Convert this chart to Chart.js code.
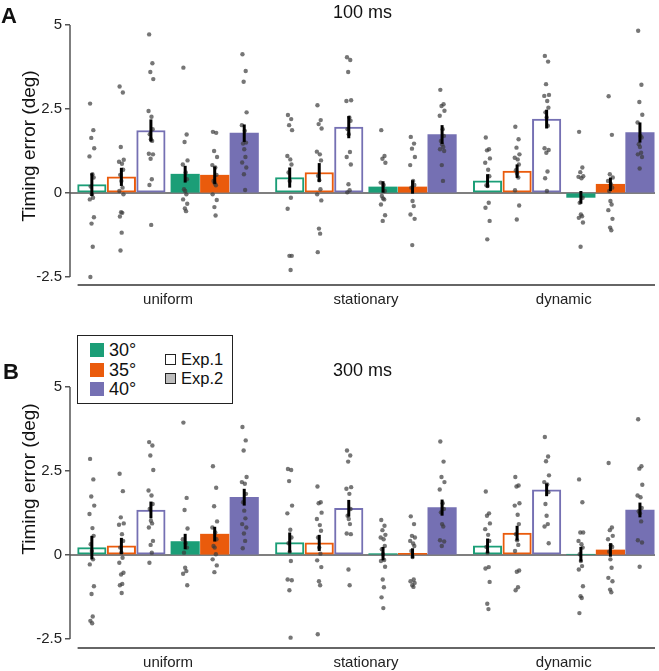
<!DOCTYPE html>
<html>
<head>
<meta charset="utf-8">
<script src="https://cdn.jsdelivr.net/npm/chart.js@4.4.1/dist/chart.umd.min.js"></script>
<style>
  body { margin: 0; background: #fff; font-family: "Liberation Sans", Arial, sans-serif; }
  #wrap { position: relative; width: 659px; height: 671px; }
  #panelA { position: absolute; left: 0; top: 0; }
  #panelB { position: absolute; left: 0; top: 320px; }
  #legend { position: absolute; left: 77px; top: 335px; width: 154px; height: 67px; border: 1px solid #222; background: #fff; color: #111; }
  #legend .sw { position: absolute; width: 14px; height: 14px; left: 12px; }
  #legend .ex { position: absolute; width: 9px; height: 9px; left: 87px; border: 1px solid #222; }
  #legend .tx { position: absolute; font-size: 18px; line-height: 18px; }
  #legend .tx2 { position: absolute; font-size: 16.5px; line-height: 18px; left: 103px; }
</style>
</head>
<body>
<div id="wrap">
  <canvas id="panelA" width="659" height="320"></canvas>
  <canvas id="panelB" width="659" height="351"></canvas>
  <div id="legend">
    <div class="sw" style="top:7px;background:#1b9e77"></div><div class="tx" style="left:31px;top:5px">30°</div>
    <div class="sw" style="top:27px;background:#ea5b0c"></div><div class="tx" style="left:31px;top:25px">35°</div>
    <div class="sw" style="top:46px;background:#7570b3"></div><div class="tx" style="left:31px;top:44px">40°</div>
    <div class="ex" style="top:18px;background:#fff"></div><div class="tx2" style="top:14px">Exp.1</div>
    <div class="ex" style="top:37px;background:#bdbdbd"></div><div class="tx2" style="top:33px">Exp.2</div>
  </div>
</div>
<script>
// Timing error bars, two delay panels

const conditions = ['uniform', 'stationary', 'dynamic'];
const angles = ['30°', '35°', '40°'];
const angleColors = ['#1b9e77', '#ea5b0c', '#7570b3'];
const yTicks = [-2.5, 0, 2.5, 5];

// bar means and SE, indexed [angle][condition]
const mean100Exp1 = [[0.25, 0.46, 0.36], [0.48, 0.61, 0.65], [1.86, 1.96, 2.2]];
const mean100Exp2 = [[0.56, 0.18, -0.13], [0.53, 0.18, 0.26], [1.78, 1.74, 1.8]];
const se100Exp1 = [[0.34, 0.3, 0.2], [0.27, 0.28, 0.2], [0.33, 0.33, 0.28]];
const se100Exp2 = [[0.25, 0.17, 0.19], [0.26, 0.2, 0.2], [0.26, 0.28, 0.3]];

const mean300Exp1 = [[0.22, 0.37, 0.27], [0.27, 0.36, 0.65], [1.34, 1.39, 1.94]];
const mean300Exp2 = [[0.4, 0.04, 0.02], [0.62, 0.05, 0.15], [1.72, 1.41, 1.34]];
const se300Exp1 = [[0.35, 0.3, 0.22], [0.24, 0.24, 0.22], [0.25, 0.25, 0.19]];
const se300Exp2 = [[0.23, 0.2, 0.22], [0.22, 0.15, 0.2], [0.25, 0.24, 0.22]];

// individual observers, indexed [angle][condition]
const dots100Exp1 = [
  [
    [2.66, 1.87, 1.64, 1.33, 1.09, 0.56, 0.46, 0.19, -0.04, -0.14, -0.19, -0.72, -0.91, -1.6, -2.5],
    [2.32, 2.2, 2.02, 1.87, 1.1, 1.0, 0.85, 0.61, 0.36, -0.14, -0.47, -1.87, -1.87, -2.29],
    [1.65, 1.3, 1.27, 1.03, 0.9, 0.69, 0.5, 0.23, 0.21, -0.29, -0.44, -0.83, -1.38]
  ],
  [
    [3.17, 2.99, 1.37, 0.99, 0.93, 0.87, 0.69, 0.54, 0.36, 0.16, 0.06, -0.04, -0.57, -0.59, -0.7, -1.18, -1.71],
    [2.61, 2.17, 2.05, 1.92, 1.23, 1.15, 0.97, 0.51, 0.38, 0.11, -0.04, -0.22, -1.06, -1.21, -1.76],
    [1.97, 1.6, 1.35, 1.15, 1.05, 1.0, 0.85, 0.68, 0.58, 0.46, 0.08, -0.37, -0.79]
  ],
  [
    [4.72, 3.86, 3.6, 3.39, 2.44, 2.27, 1.9, 1.75, 1.6, 1.55, 1.17, 1.15, 1.02, 0.41, 0.24, -0.95],
    [4.04, 3.96, 3.6, 2.76, 2.74, 2.25, 2.15, 1.9, 1.75, 1.22, 1.07, 0.85, 0.26, 0.08, 0.02],
    [4.08, 3.91, 3.24, 2.92, 2.89, 2.74, 2.54, 2.4, 2.25, 2.0, 1.33, 1.28, 1.2, 0.64, 0.44, 0.06]
  ]
];
const dots100Exp2 = [
  [
    [3.73, 1.74, 1.52, 0.97, 0.85, 0.61, 0.41, 0.11, 0.06, -0.04, -0.19, -0.32, -0.46, -0.54],
    [1.87, 1.1, 1.02, 0.9, 0.31, 0.24, 0.06, -0.09, -0.16, -0.19, -0.34, -0.66, -0.83],
    [1.82, 0.76, 0.62, 0.5, 0.48, 0.44, -0.14, -0.29, -0.64, -0.69, -0.74, -0.88, -1.6]
  ],
  [
    [1.82, 1.79, 1.25, 1.07, 0.83, 0.76, 0.54, 0.36, 0.29, 0.23, -0.04, -0.21, -0.42, -0.67],
    [1.67, 1.47, 1.32, 1.07, 0.83, 0.36, 0.24, 0.16, -0.24, -0.39, -0.64, -0.77, -1.55],
    [2.88, 1.73, 0.56, 0.46, 0.36, 0.26, 0.16, 0.06, -0.24, -0.34, -0.51, -0.77, -1.03, -1.11]
  ],
  [
    [4.13, 3.63, 3.31, 2.4, 2.02, 1.85, 1.5, 1.47, 1.3, 1.07, 0.91, 0.76, 0.56, 0.09],
    [3.07, 2.64, 2.59, 2.45, 2.3, 1.9, 1.7, 1.55, 1.45, 1.37, 1.3, 1.25, 0.83, 0.36],
    [4.83, 3.22, 2.71, 2.33, 2.1, 1.7, 1.65, 1.45, 1.37, 1.2, 1.15, 1.07, 0.73]
  ]
];
const dots300Exp1 = [
  [
    [2.86, 2.25, 1.74, 1.47, 1.22, 0.8, 0.57, 0.32, 0.12, -0.13, -0.28, -0.93, -1.16, -1.83, -1.96, -2.03],
    [2.56, 2.53, 2.2, 1.47, 1.24, 0.75, 0.52, 0.35, 0.1, -0.18, -0.73, -0.75, -1.05, -2.46],
    [1.89, 1.24, 1.17, 0.94, 0.77, 0.6, 0.42, 0.24, 0.07, -0.36, -0.4, -0.8, -1.45, -1.61]
  ],
  [
    [2.42, 1.9, 1.12, 0.94, 0.9, 0.62, 0.42, 0.22, 0.07, -0.08, -0.23, -0.53, -0.58, -0.86, -0.9, -1.13],
    [2.04, 1.57, 1.54, 1.26, 1.07, 0.89, 0.72, 0.52, 0.22, 0.04, -0.16, -0.36, -0.78, -0.9, -2.36],
    [2.32, 2.07, 2.04, 1.54, 1.47, 1.2, 0.92, 0.62, 0.44, 0.3, 0.12, -0.46, -0.5, -0.96, -1.05]
  ],
  [
    [3.36, 3.26, 2.96, 2.53, 1.92, 1.77, 1.52, 1.37, 1.02, 0.94, 0.82, 0.42, 0.3, 0.07, -0.23],
    [3.11, 2.96, 2.78, 2.02, 1.97, 1.82, 1.37, 1.17, 1.07, 0.92, 0.64, 0.62, -0.43, -0.9],
    [3.51, 2.93, 2.79, 2.37, 2.17, 2.1, 1.87, 1.52, 1.17, 0.92, 0.85, 0.35]
  ]
];
const dots300Exp2 = [
  [
    [3.94, 1.7, 1.34, 0.79, 0.47, 0.35, 0.22, 0.07, -0.38, -0.48, -0.56, -0.9],
    [1.04, 0.87, 0.74, 0.6, 0.52, 0.47, 0.27, 0.17, 0.02, -0.15, -0.18, -0.35, -0.73, -0.96, -1.26, -1.58],
    [2.25, 1.57, 0.67, 0.67, 0.42, 0.32, 0.22, 0.02, -0.18, -0.33, -0.43, -0.93, -1.23, -1.28, -1.73]
  ],
  [
    [2.64, 2.0, 1.45, 1.0, 0.82, 0.67, 0.47, 0.27, 0.22, 0.02, -0.13, -0.31, -0.51],
    [1.15, 0.92, 0.57, 0.52, 0.42, 0.34, 0.27, 0.12, -0.06, -0.73, -0.78, -0.83, -0.9, -0.95],
    [2.74, 0.82, 0.74, 0.57, 0.47, 0.29, 0.24, 0.1, -0.13, -0.38, -0.68, -0.78, -1.03, -1.11]
  ],
  [
    [3.81, 3.41, 3.11, 2.32, 2.17, 2.12, 1.82, 1.57, 1.32, 1.09, 0.92, 0.82, 0.64, 0.42, 0.2],
    [3.38, 2.78, 2.32, 2.17, 1.95, 1.54, 1.37, 1.27, 0.92, 0.85, 0.44, 0.4, 0.27],
    [4.04, 2.64, 2.57, 2.09, 1.77, 1.72, 1.4, 1.3, 1.24, 1.0, 0.44, 0.37, -0.35]
  ]
];

// bar slots on a linear x axis (1 unit = one bar)
const groupStep = 6.7;
const expStep = 3.16;
const barWidth = 28.5;
const xMin = -0.74;
const xMax = 19.07;
const jitter = [-0.06, 0.05, -0.02, 0.08, -0.08, 0.02, 0.06, -0.04, 0.0, 0.04, -0.07, 0.07, -0.01, 0.03, -0.05, 0.01, -0.03];

function barX(g, e, a) {
  return g * groupStep + e * expStep + a;
}

function buildDatasets(means1, means2, se1, se2, dots1, dots2) {
  const points = [];
  [dots1, dots2].forEach((dots, e) => {
    dots.forEach((byCond, a) => {
      byCond.forEach((vals, g) => {
        vals.forEach((v, k) => {
          points.push({ x: barX(g, e, a) + jitter[k % jitter.length], y: v });
        });
      });
    });
  });

  const sets = [{
    type: 'scatter',
    data: points,
    pointRadius: 2.2,
    pointBackgroundColor: 'rgba(60,60,60,0.7)',
    pointBorderWidth: 0,
    order: 0
  }];

  [[means1, se1], [means2, se2]].forEach(([means, se], e) => {
    means.forEach((vals, a) => {
      sets.push({
        type: 'bar',
        label: angles[a] + ' Exp.' + (e + 1),
        data: vals.map((v, g) => ({ x: barX(g, e, a), y: v })),
        se: se[a],
        backgroundColor: e === 0 ? '#ffffff' : angleColors[a],
        borderColor: angleColors[a],
        borderWidth: e === 0 ? 2 : 0,
        borderSkipped: false,
        barThickness: barWidth,
        grouped: false,
        order: 1
      });
    });
  });
  return sets;
}

// axis lines, zero line, error bars, panel title, letter and y title
const panelDecor = {
  id: 'panelDecor',
  beforeDatasetsDraw(chart) {
    const { ctx, chartArea, scales: { x, y } } = chart;
    ctx.save();
    ctx.strokeStyle = '#555';
    ctx.lineWidth = 1.5;
    ctx.beginPath();
    ctx.moveTo(chartArea.left, y.getPixelForValue(0));
    ctx.lineTo(chartArea.right, y.getPixelForValue(0));
    ctx.moveTo(chartArea.left, y.getPixelForValue(yTicks[0]));
    ctx.lineTo(chartArea.left, y.getPixelForValue(yTicks[yTicks.length - 1]));
    ctx.stroke();
    ctx.beginPath();
    ctx.strokeStyle = '#333';
    ctx.moveTo(x.getPixelForValue(barX(0, 0, 0)) - barWidth / 2, chartArea.bottom);
    ctx.lineTo(chartArea.right, chartArea.bottom);
    ctx.stroke();
    ctx.restore();
  },
  afterDatasetsDraw(chart) {
    const { ctx, scales: { y } } = chart;
    ctx.save();
    ctx.strokeStyle = '#000';
    ctx.lineWidth = 3;
    chart.data.datasets.forEach((ds, i) => {
      if (!ds.se) return;
      const meta = chart.getDatasetMeta(i);
      meta.data.forEach((bar, j) => {
        const m = ds.data[j].y;
        ctx.beginPath();
        ctx.moveTo(bar.x, y.getPixelForValue(m - ds.se[j]));
        ctx.lineTo(bar.x, y.getPixelForValue(m + ds.se[j]));
        ctx.stroke();
      });
    });
    ctx.restore();
  },
  afterDraw(chart, args, opts) {
    const { ctx, chartArea } = chart;
    ctx.save();
    ctx.fillStyle = '#111';
    ctx.textAlign = 'center';
    ctx.textBaseline = 'middle';
    ctx.font = '18px "Liberation Sans", Arial, sans-serif';
    ctx.fillText(opts.title, (chartArea.left + chartArea.right) / 2, opts.titleY);
    ctx.font = 'bold 22px "Liberation Sans", Arial, sans-serif';
    ctx.fillText(opts.letter, opts.letterX, opts.letterY);
    ctx.translate(30, opts.yTitleY);
    ctx.rotate(-Math.PI / 2);
    ctx.font = '19px "Liberation Sans", Arial, sans-serif';
    ctx.fillText('Timing error (deg)', 0, 0);
    ctx.restore();
  }
};

function makePanel(id, panel) {
  const canvas = document.getElementById(id);
  return new Chart(canvas.getContext('2d'), {
    type: 'bar',
    data: { datasets: buildDatasets(panel.m1, panel.m2, panel.s1, panel.s2, panel.d1, panel.d2) },
    plugins: [panelDecor],
    options: {
      responsive: false,
      animation: false,
      layout: { padding: { top: panel.padTop, right: 1, bottom: 0, left: 0 } },
      plugins: {
        legend: { display: false },
        tooltip: { enabled: false },
        panelDecor: {
          title: panel.title, titleY: panel.titleY,
          letter: panel.letter, letterX: panel.letterX, letterY: panel.letterY,
          yTitleY: panel.yTitleY
        }
      },
      scales: {
        x: {
          type: 'linear',
          min: xMin,
          max: xMax,
          offset: false,
          afterBuildTicks: s => { s.ticks = conditions.map((c, g) => ({ value: barX(g, 0, 0) + (expStep + 2) / 2 })); },
          afterFit: s => { s.height = panel.xAxisHeight; },
          grid: { display: false, drawTicks: false },
          border: { display: false },
          ticks: {
            autoSkip: false,
            maxRotation: 0,
            padding: 6,
            color: '#222',
            font: { family: '"Liberation Sans", Arial, sans-serif', size: 15 },
            callback: (v, i) => conditions[i]
          }
        },
        y: {
          min: panel.yMin,
          max: 5,
          afterBuildTicks: s => { s.ticks = yTicks.map(v => ({ value: v })); },
          afterFit: s => { s.width = 70; },
          grid: { drawOnChartArea: false, drawTicks: true, tickLength: 5, color: '#555', lineWidth: 1.5 },
          border: { display: false },
          ticks: {
            padding: 3,
            color: '#222',
            font: { family: '"Liberation Sans", Arial, sans-serif', size: 15 },
            callback: v => String(v)
          }
        }
      }
    }
  });
}

makePanel('panelA', {
  m1: mean100Exp1, m2: mean100Exp2, s1: se100Exp1, s2: se100Exp2, d1: dots100Exp1, d2: dots100Exp2,
  title: '100 ms', titleY: 13, letter: 'A', letterX: 9, letterY: 17, yTitleY: 146,
  padTop: 25, xAxisHeight: 35, yMin: -2.738
});

makePanel('panelB', {
  m1: mean300Exp1, m2: mean300Exp2, s1: se300Exp1, s2: se300Exp2, d1: dots300Exp1, d2: dots300Exp2,
  title: '300 ms', titleY: 51, letter: 'B', letterX: 11, letterY: 53, yTitleY: 159,
  padTop: 67, xAxisHeight: 23, yMin: -2.768
});
</script>
</body>
</html>
